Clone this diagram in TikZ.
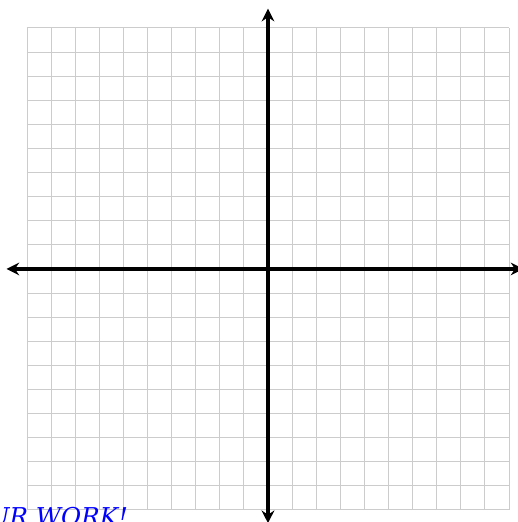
\documentclass[tikz,border=0pt]{standalone}
\usepackage{fontspec}
\newfontfamily\notefont{DejaVu Serif}
\usepackage{xcolor}
\usetikzlibrary{arrows.meta,positioning}

\begin{document}
\begin{tikzpicture}[
  gridline/.style={draw=gray!40, line width=1.1pt},
  axis/.style={line width=4.6pt, {Stealth[length=15pt,width=15pt,inset=5pt]}-{Stealth[length=15pt,width=15pt,inset=5pt]}},
  note/.style={font=\notefont\fontsize{29}{32}\selectfont\itshape, text=blue, inner sep=0pt}
]
\useasboundingbox (-11.12,-10.5) rectangle (10.37,11.16);

% grid
\draw[gridline] (-10,-10) grid (10,10);

% axes
\coordinate (xl) at (-10.85,0);
\coordinate (xr) at (10.6,0);
\coordinate (yb) at (0,-10.55);
\coordinate (yt) at (0,10.8);
\draw[axis] (xl) -- (xr);
\draw[axis] (yb) -- (yt);

\node[note, anchor=base east] (msg) at (-5.8,-10.66) {SHOW YOUR WORK!};
\end{tikzpicture}
\end{document}
